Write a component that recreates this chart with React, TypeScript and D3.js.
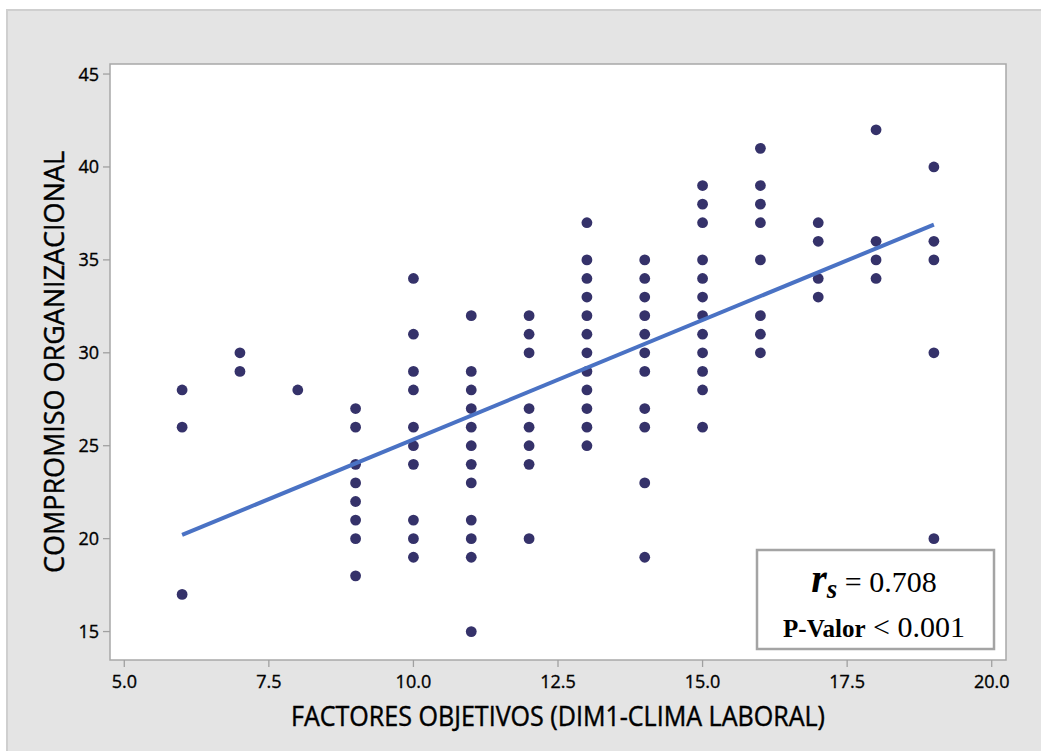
import React from "react";
import * as d3 from "d3";

// X value of each column of points (FACTORES OBJETIVOS)
const colX: number[] = [6, 7, 8, 9, 10, 11, 12, 13, 14, 15, 16, 17, 18, 19];
// Y values observed in each column (COMPROMISO ORGANIZACIONAL)
const colY: number[][] = [
  [28, 26, 17],
  [30, 29],
  [28],
  [27, 26, 24, 23, 22, 21, 20, 18],
  [34, 31, 29, 28, 26, 25, 24, 21, 20, 19],
  [32, 29, 28, 27, 26, 25, 24, 23, 21, 20, 19, 15],
  [32, 31, 30, 27, 26, 25, 24, 20],
  [37, 35, 34, 33, 32, 31, 30, 29, 28, 27, 26, 25],
  [35, 34, 33, 32, 31, 30, 29, 27, 26, 23, 19],
  [39, 38, 37, 35, 34, 33, 32, 31, 30, 29, 28, 26],
  [41, 39, 38, 37, 35, 32, 31, 30],
  [37, 36, 34, 33],
  [42, 36, 35, 34],
  [40, 36, 35, 30, 20],
];
// fitted line end points
const fitX: number[] = [6, 19];
const fitY: number[] = [20.2, 36.9];

const xTicks: number[] = [5, 7.5, 10, 12.5, 15, 17.5, 20];
const yTicks: number[] = [15, 20, 25, 30, 35, 40, 45];

const xTitle = "FACTORES OBJETIVOS (DIM1-CLIMA LABORAL)";
const yTitle = "COMPROMISO ORGANIZACIONAL";
const rsValue = "0.708";
const pValue = "0.001";

const W = 1041;
const H = 751;
const plot = { left: 110, top: 64, right: 1006, bottom: 660 };

export default function App() {
  const x = d3.scaleLinear().domain([4.753, 20.247]).range([plot.left, plot.right]);
  const y = d3.scaleLinear().domain([13.47, 45.54]).range([plot.bottom, plot.top]);

  const points: { x: number; y: number }[] = [];
  colX.forEach((cx, i) => colY[i].forEach((v) => points.push({ x: cx, y: v })));

  const line = d3
    .line<number>()
    .x((_, i) => x(fitX[i]))
    .y((d) => y(d));

  const sans = "'Open Sans', 'Noto Sans', sans-serif";
  const serif = "'Liberation Serif', 'Times New Roman', serif";
  const tickColor = "#a0a0a0";
  const heavy = { stroke: "#000", strokeWidth: 0.35 };

  return (
    <svg
      width={W}
      height={H}
      style={{ position: "absolute", left: 0, top: 0 }}
      xmlns="http://www.w3.org/2000/svg"
    >
      <rect x={0} y={0} width={W} height={H} fill="#ffffff" />
      <rect x={7} y={10} width={W} height={H} fill="#e4e4e4" stroke="#cfcfcf" strokeWidth={2} />
      <rect
        x={plot.left}
        y={plot.top}
        width={plot.right - plot.left}
        height={plot.bottom - plot.top}
        fill="#ffffff"
        stroke="#a8a8a8"
        strokeWidth={1.5}
      />

      {/* x axis ticks */}
      {xTicks.map((t) => (
        <g key={"x" + t}>
          <line x1={x(t)} x2={x(t)} y1={plot.bottom} y2={plot.bottom + 7} stroke={tickColor} strokeWidth={1.3} />
          <text
            x={x(t)}
            y={plot.bottom + 28}
            textAnchor="middle"
            fontFamily={sans}
            fontSize={18}
            fill="#000"
            {...heavy}
          >
            {t.toFixed(1)}
          </text>
        </g>
      ))}
      {/* y axis ticks */}
      {yTicks.map((t) => (
        <g key={"y" + t}>
          <line x1={plot.left - 7} x2={plot.left} y1={y(t)} y2={y(t)} stroke={tickColor} strokeWidth={1.3} />
          <text
            x={plot.left - 11}
            y={y(t)}
            dy="0.36em"
            textAnchor="end"
            fontFamily={sans}
            fontSize={18}
            fill="#000"
            {...heavy}
          >
            {t}
          </text>
        </g>
      ))}

      {/* axis titles */}
      <text
        x={(plot.left + plot.right) / 2}
        y={726}
        textAnchor="middle"
        fontFamily={sans}
        fontSize={27}
        fill="#000"
        stroke="#000"
        strokeWidth={0.45}
        textLength={534}
        lengthAdjust="spacingAndGlyphs"
      >
        {xTitle}
      </text>
      <text
        transform={`translate(64, ${(plot.top + plot.bottom) / 2}) rotate(-90)`}
        textAnchor="middle"
        fontFamily={sans}
        fontSize={27}
        fill="#000"
        stroke="#000"
        strokeWidth={0.45}
        textLength={422}
        lengthAdjust="spacingAndGlyphs"
      >
        {yTitle}
      </text>

      {/* points */}
      {points.map((p, i) => (
        <circle key={i} cx={x(p.x)} cy={y(p.y)} r={5.4} fill="#35326a" />
      ))}

      {/* fitted line */}
      <path d={line(fitY) || ""} fill="none" stroke="#4a72c4" strokeWidth={4} />

      {/* statistics box */}
      <rect x={757} y={550} width={237} height={99} fill="#ffffff" stroke="#a4a4a4" strokeWidth={2.5} />
      <text x={874} y={592} textAnchor="middle" fontFamily={serif} fill="#000">
        <tspan fontSize={40} fontWeight="bold" fontStyle="italic">r</tspan>
        <tspan fontSize={27} fontWeight="bold" fontStyle="italic" dy={6}>s</tspan>
        <tspan fontSize={30} dy={-6}>{" = " + rsValue}</tspan>
      </text>
      <text x={874} y={637} textAnchor="middle" fontFamily={serif} fill="#000">
        <tspan fontSize={25} fontWeight="bold">P-Valor</tspan>
        <tspan fontSize={30}>{" < " + pValue}</tspan>
      </text>
    </svg>
  );
}
